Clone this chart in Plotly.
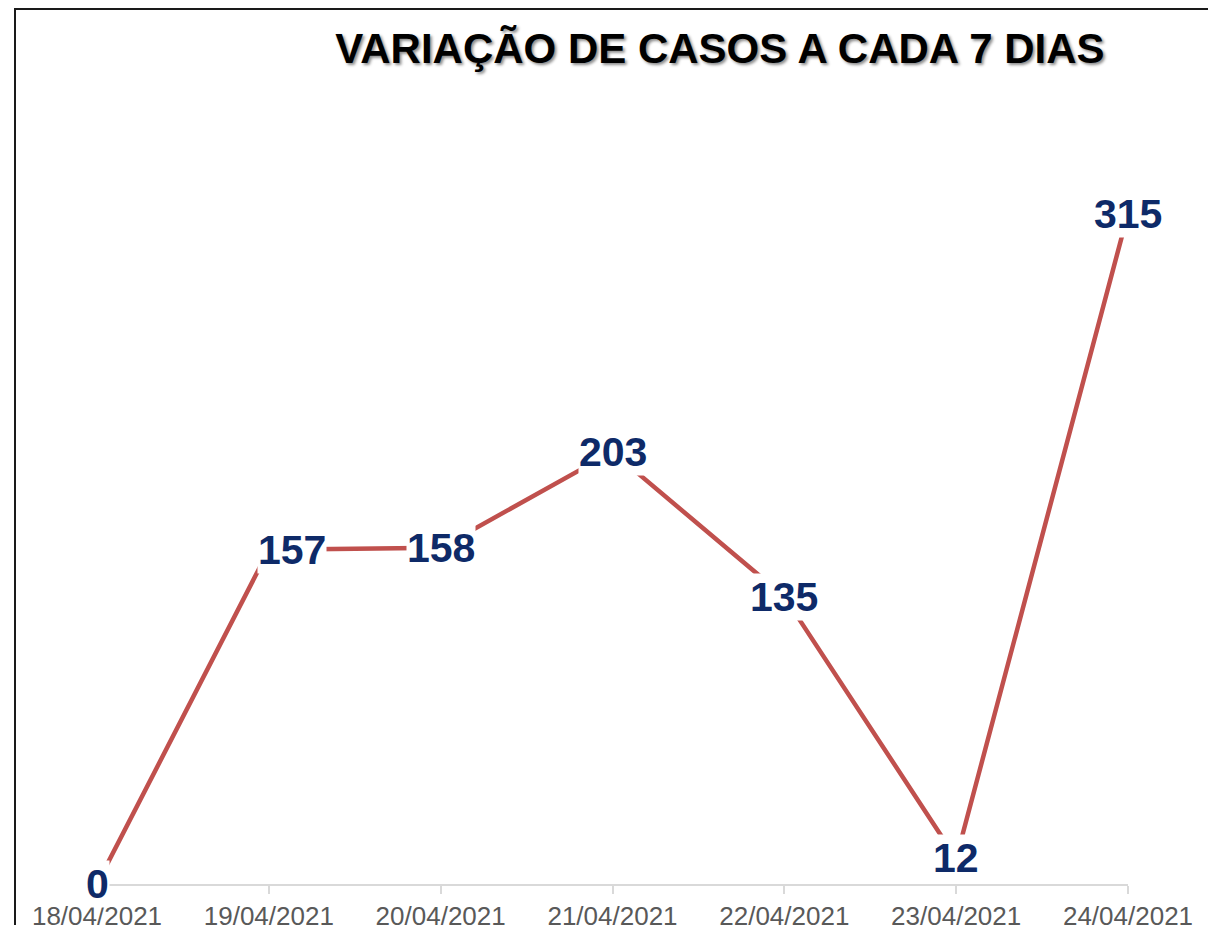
import plotly.graph_objects as go

dates = ["18/04/2021", "19/04/2021", "20/04/2021", "21/04/2021",
         "22/04/2021", "23/04/2021", "24/04/2021"]
cases = [0, 157, 158, 203, 135, 12, 315]
label_xshift = [0, 23, 0, 0, 0, 0, 0]

title_text = "VARIAÇÃO DE CASOS A CADA 7 DIAS"

# page body has an 8px default margin; figure pixel = screen pixel - 8
OFF = 8
W, H = 1216, 917
ML, MR, MT, MB = 97 - OFF, W - (1128 - OFF), 139 - OFF, 41
pw = W - ML - MR
ph = H - MT - MB

fig = go.Figure()
fig.add_trace(go.Scatter(
    x=dates, y=cases, mode="lines",
    line=dict(color="#C0504D", width=4.5),
    hoverinfo="x+y", showlegend=False,
))

for d, v, xs in zip(dates, cases, label_xshift):
    fig.add_annotation(
        x=d, y=v, xref="x", yref="y", text=str(v), showarrow=False,
        xshift=xs, bgcolor="white", borderpad=0,
        font=dict(family="Liberation Sans, Arial, sans-serif", size=41,
                  color="#0E2A68", weight="bold"),
    )

# outer border frame
fig.add_shape(
    type="rect", xref="paper", yref="paper",
    x0=(15 - OFF - ML) / pw, x1=(1210 - OFF - ML) / pw,
    y0=(H - MB - 960) / ph, y1=(H - MB - 1) / ph,
    line=dict(color="#1a1a1a", width=2), fillcolor="rgba(0,0,0,0)",
    layer="above",
)

fig.update_layout(
    width=W, height=H,
    margin=dict(l=ML, r=MR, t=MT, b=MB, pad=0, autoexpand=False),
    paper_bgcolor="white", plot_bgcolor="white",
    title=dict(
        text=title_text, xref="container", yref="container",
        x=(720 - OFF) / W, xanchor="center", y=1 - (48 - OFF) / H, yanchor="middle",
        font=dict(family="Liberation Sans, Arial, sans-serif", size=42,
                  color="black", weight="bold",
                  shadow="2px 2px 3px rgba(0,0,0,0.45)"),
    ),
    xaxis=dict(
        type="category", range=[0, 6], showgrid=False, zeroline=False,
        automargin=False,
        showline=True, linecolor="#D9D9D9", linewidth=1.5,
        ticks="outside", ticklen=8, tickcolor="#D9D9D9", tickwidth=1.5,
        tickfont=dict(family="Liberation Sans, Arial, sans-serif", size=26,
                      color="#595959"),
    ),
    yaxis=dict(
        range=[0, 350], visible=False, showgrid=False, zeroline=False,
        automargin=False,
    ),
)

fig.write_html("out.html")
